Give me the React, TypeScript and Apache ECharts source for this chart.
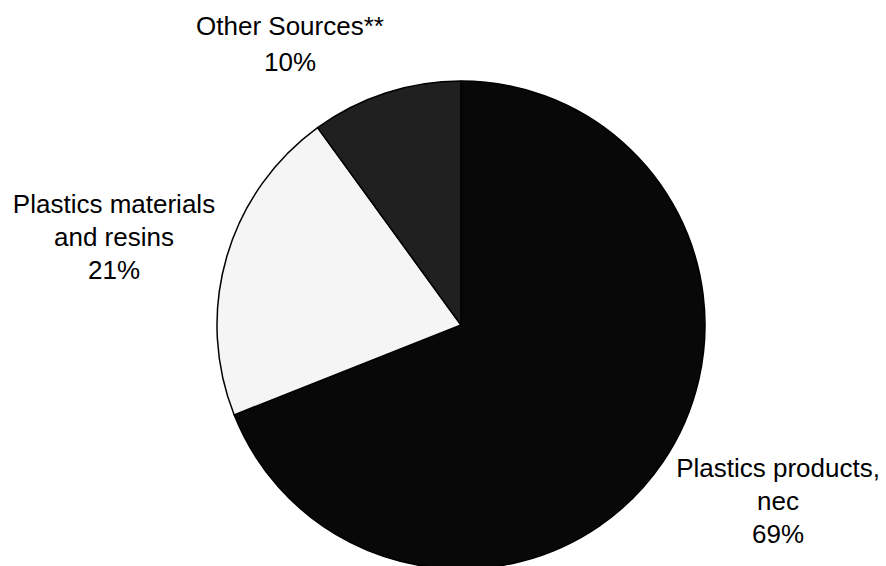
import React, { useEffect, useRef } from "react";
import * as echarts from "echarts";

const categories = ["Plastics products,\nnec", "Plastics materials\nand resins", "Other Sources**"];
const values = [69, 21, 10];
const colors = ["#080808", "#f5f5f5", "#202020"];

const labelPos = [
  { x: 778, y: 501, lh: 33 },
  { x: 114, y: 237, lh: 33 },
  { x: 290, y: 44, lh: 36 },
];

export default function App() {
  const ref = useRef<HTMLDivElement>(null);
  useEffect(() => {
    if (!ref.current) return;
    const chart = echarts.init(ref.current, null, { renderer: "svg" });
    chart.setOption({
      animation: false,
      backgroundColor: "#ffffff",
      series: [
        {
          type: "pie",
          center: [461, 325],
          radius: 244,
          startAngle: 90,
          clockwise: true,
          silent: true,
          itemStyle: { borderColor: "#000000", borderWidth: 1.5 },
          label: {
            show: true,
            position: "outside",
            formatter: "{b}\n{c}%",
            fontFamily: "Liberation Sans, Arial, sans-serif",
            fontSize: 26,
            color: "#000000",
            align: "center",
            overflow: "none",
            width: 400,
          },
          labelLine: { show: false },
          labelLayout: (params: any) => {
            const p = labelPos[params.dataIndex];
            return { x: p.x, y: p.y, align: "center", verticalAlign: "middle" };
          },
          data: categories.map((name, i) => ({
            name,
            value: values[i],
            itemStyle: { color: colors[i] },
            label: { lineHeight: labelPos[i].lh },
          })),
        },
      ],
    });
    return () => chart.dispose();
  }, []);
  return (
    <div
      ref={ref}
      style={{ position: "fixed", left: 0, top: 0, width: 886, height: 566 }}
    />
  );
}
